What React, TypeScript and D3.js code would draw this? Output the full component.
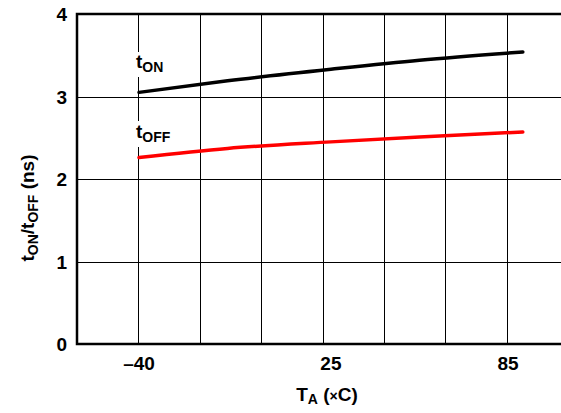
import React from "react";
import * as d3 from "d3";

// temperature (°C) vs switching time (ns)
const temps = [-40, -10, 25, 55, 90];
const tOn = [3.05, 3.19, 3.33, 3.44, 3.54];
const tOff = [2.26, 2.37, 2.45, 2.51, 2.57];
const xTicks = [-40, 25, 85];
const yTicks = [0, 1, 2, 3, 4];

const W = 561;
const H = 413;
const margin = { left: 77, top: 14, right: 568, bottom: 344 };
const font = "'Liberation Sans', Arial, sans-serif";

const crisp = (v: number) => Math.round(v) + 0.5;

export default function App() {
  if (typeof document !== "undefined") document.body.style.margin = "0";

  const x = d3.scaleLinear().domain([-61, 105.3]).range([margin.left, margin.right]);
  const y = d3.scaleLinear().domain([0, 4]).range([margin.bottom, margin.top]);

  const line = d3
    .line<number>()
    .x((_, i) => x(temps[i]))
    .y((d) => y(d))
    .curve(d3.curveMonotoneX);

  // 8 equal grid divisions across the plot
  const vGrid = d3.range(1, 9).map((i) => margin.left + (i * (margin.right - margin.left)) / 8);

  return (
    <svg width={W} height={H} style={{ display: "block" }} fontFamily={font} fontWeight="bold">
      <rect width={W} height={H} fill="#fff" />
      {vGrid.map((gx) => (
        <line key={gx} x1={crisp(gx)} x2={crisp(gx)} y1={margin.top} y2={margin.bottom} stroke="#000" strokeWidth={1} />
      ))}
      {yTicks.slice(1, 4).map((t) => (
        <line key={t} x1={margin.left} x2={margin.right} y1={crisp(y(t))} y2={crisp(y(t))} stroke="#000" strokeWidth={1} />
      ))}
      {/* frame */}
      <path
        d={`M${margin.right},${margin.top}H${margin.left}V${margin.bottom}H${margin.right}`}
        fill="none"
        stroke="#000"
        strokeWidth={2.5}
      />

      {/* series labels with white backing */}
      <rect x={133} y={52} width={42} height={25} fill="#fff" />
      <text x={136} y={68} fontSize={19}>
        t<tspan fontSize={14} dy={4}>ON</tspan>
      </text>
      <rect x={133} y={121} width={50} height={26} fill="#fff" />
      <text x={136} y={138} fontSize={19}>
        t<tspan fontSize={14} dy={4}>OFF</tspan>
      </text>

      <path d={line(tOn) ?? ""} fill="none" stroke="#000" strokeWidth={3.5} strokeLinecap="round" />
      <path d={line(tOff) ?? ""} fill="none" stroke="#ff0000" strokeWidth={3.5} strokeLinecap="round" />

      {yTicks.map((t) => (
        <text key={t} x={67} y={y(t) + 7} textAnchor="end" fontSize={19}>
          {t}
        </text>
      ))}
      {xTicks.map((t) => (
        <text key={t} x={x(t)} y={370} textAnchor="middle" fontSize={19}>
          {t < 0 ? `\u2013${Math.abs(t)}` : t}
        </text>
      ))}

      <text x={327} y={401} textAnchor="middle" fontSize={19}>
        T<tspan fontSize={14} dy={3}>A</tspan>
        <tspan dy={-3}> (</tspan>
        <tspan fontSize={14}>×</tspan>
        <tspan>C)</tspan>
      </text>
      <text transform="translate(34,208) rotate(-90)" textAnchor="middle" fontSize={19}>
        t<tspan fontSize={14} dy={4}>ON</tspan>
        <tspan dy={-4}>/t</tspan>
        <tspan fontSize={14} dy={4}>OFF</tspan>
        <tspan dy={-4}> (ns)</tspan>
      </text>
    </svg>
  );
}
